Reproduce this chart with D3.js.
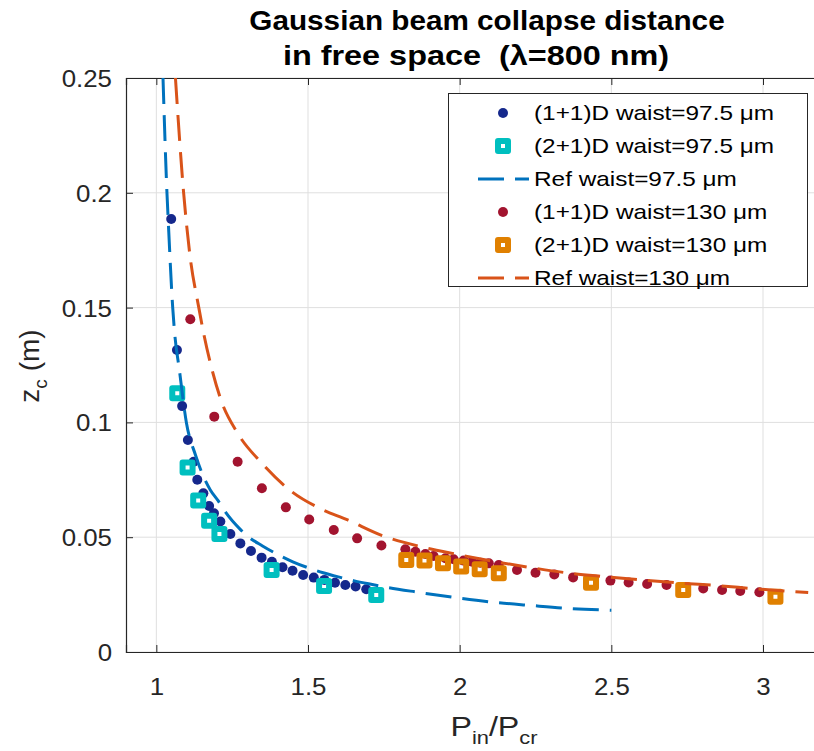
<!DOCTYPE html>
<html>
<head>
<meta charset="utf-8">
<script src="https://cdn.jsdelivr.net/npm/d3@7"></script>
<style>
  body { margin: 0; background: #fff; }
  svg { font-family: "Liberation Sans", Arial, sans-serif; }
</style>
</head>
<body>
<script>
// (1+1)D, waist 97.5 um
const p1D975 = [1.049, 1.068, 1.085, 1.104, 1.123, 1.135, 1.155, 1.174, 1.190, 1.211, 1.244, 1.277, 1.312, 1.347, 1.381, 1.416, 1.449, 1.484, 1.519, 1.554, 1.589, 1.623, 1.657, 1.692];
const z1D975 = [0.1886, 0.1315, 0.1071, 0.0923, 0.0829, 0.0750, 0.0691, 0.0636, 0.0604, 0.0568, 0.0514, 0.0473, 0.0440, 0.0411, 0.0393, 0.0369, 0.0354, 0.0335, 0.0324, 0.0314, 0.0302, 0.0292, 0.0285, 0.0273];
// (2+1)D, waist 97.5 um
const p2D975 = [1.069, 1.103, 1.138, 1.174, 1.208, 1.380, 1.553, 1.725];
const z2D975 = [0.1127, 0.0804, 0.0660, 0.0572, 0.0514, 0.0357, 0.0287, 0.0248];
// reference curve, waist 97.5 um
const pRef975 = [1.022, 1.035, 1.039, 1.054, 1.060, 1.076, 1.099, 1.129, 1.151, 1.178, 1.203, 1.227, 1.279, 1.30, 1.35, 1.40, 1.45, 1.50, 1.55, 1.60, 1.65, 1.70, 1.75, 1.859, 1.986, 2.110, 2.233, 2.358, 2.5];
const zRef975 = [0.25, 0.2, 0.1886, 0.15, 0.1395, 0.1228, 0.100, 0.0858, 0.0778, 0.0706, 0.0660, 0.0611, 0.0531, 0.0505, 0.0462, 0.0425, 0.0393, 0.0367, 0.0345, 0.0327, 0.0311, 0.0297, 0.0284, 0.0261, 0.0237, 0.0217, 0.0203, 0.0190, 0.0182];
// (1+1)D, waist 130 um
const p1D130 = [1.112, 1.191, 1.268, 1.348, 1.427, 1.504, 1.585, 1.662, 1.742, 1.821, 1.854, 1.887, 1.914, 1.953, 1.980, 2.013, 2.041, 2.068, 2.096, 2.129, 2.189, 2.250, 2.312, 2.374, 2.497, 2.557, 2.618, 2.682, 2.803, 2.865, 2.925, 2.988];
const z1D130 = [0.1449, 0.1025, 0.0829, 0.0713, 0.0630, 0.0577, 0.0531, 0.0495, 0.0464, 0.0447, 0.0437, 0.0427, 0.0418, 0.0408, 0.0404, 0.0398, 0.0393, 0.0389, 0.0386, 0.0379, 0.0357, 0.0345, 0.0338, 0.0325, 0.0311, 0.0303, 0.0296, 0.0292, 0.0277, 0.0270, 0.0266, 0.0260];
// (2+1)D, waist 130 um
const p2D130 = [1.824, 1.884, 1.945, 2.005, 2.066, 2.129, 2.433, 2.737, 3.041];
const z2D130 = [0.0401, 0.0398, 0.0386, 0.0372, 0.0360, 0.0343, 0.0302, 0.0270, 0.0241];
// reference curve, waist 130 um
const pRef130 = [1.063, 1.090, 1.110, 1.140, 1.156, 1.181, 1.213, 1.268, 1.348, 1.447, 1.534, 1.631, 1.747, 1.867, 1.989, 2.111, 2.233, 2.358, 2.480, 2.606, 2.728, 2.853, 2.977, 3.149];
const zRef130 = [0.25, 0.2, 0.1736, 0.15, 0.1388, 0.1243, 0.1098, 0.0953, 0.0822, 0.0698, 0.0629, 0.0575, 0.0506, 0.0460, 0.0426, 0.0395, 0.0368, 0.0344, 0.0328, 0.0313, 0.0300, 0.0289, 0.0275, 0.0259];

const xTicks = [1, 1.5, 2, 2.5, 3];
const yTicks = [0, 0.05, 0.1, 0.15, 0.2, 0.25];
const legendLabels = ["(1+1)D waist=97.5 μm", "(2+1)D waist=97.5 μm", "Ref waist=97.5 μm",
                      "(1+1)D waist=130 μm", "(2+1)D waist=130 μm", "Ref waist=130 μm"];

const W = 814, H = 751;
const axisCol = '#262626';
const cBlueDot = '#15288c', cCyan = '#00bfbf', cBlueLine = '#0072bd';
const cRedDot = '#a2142f', cOrange = '#e08000', cOrangeLine = '#d95319';

let svg = d3.select('body').append('svg').attr('width', W).attr('height', H);

let x = d3.scaleLinear().domain([0.9, 3.3]).range([126, 854]);
let y = d3.scaleLinear().domain([0, 0.25]).range([652, 78]);

// text in the reference is a bit wider than the font, so stretch horizontally
function stretched(g, px, py, str, sx, anchor) {
  return g.append('text')
    .attr('transform', `translate(${px},${py}) scale(${sx},1)`)
    .attr('text-anchor', anchor || 'middle')
    .text(str);
}

// grid
let grid = svg.append('g').attr('stroke', '#dfdfdf').attr('stroke-width', 1);
grid.selectAll('.gx').data(xTicks).enter().append('line')
  .attr('x1', d => x(d)).attr('x2', d => x(d)).attr('y1', y(0)).attr('y2', y(0.25));
grid.selectAll('.gy').data(yTicks).enter().append('line')
  .attr('x1', x(0.9)).attr('x2', W).attr('y1', d => y(d)).attr('y2', d => y(d));

// axes
let xAxis = d3.axisBottom(x).tickValues(xTicks).tickSize(-7).tickPadding(0).tickFormat(d3.format('~g'));
let gx = svg.append('g').attr('transform', `translate(0,${y(0)})`).call(xAxis);
let xTop = d3.axisTop(x).tickValues(xTicks).tickSize(-7).tickFormat('');
let gxt = svg.append('g').attr('transform', `translate(0,${y(0.25)})`).call(xTop);
let yAxis = d3.axisLeft(y).tickValues(yTicks).tickSize(-7).tickFormat(d3.format('~g'));
let gy = svg.append('g').attr('transform', `translate(${x(0.9)},0)`).call(yAxis);

[gx, gxt, gy].forEach(g => {
  g.select('.domain').attr('stroke', axisCol).attr('stroke-width', 1.2);
  g.selectAll('.tick line').attr('stroke', axisCol).attr('stroke-width', 1);
});
gx.selectAll('.tick text').attr('y', 0).attr('dy', 0)
  .attr('transform', 'translate(0,43) scale(1.1,1)')
  .attr('font-size', 23.5).attr('fill', axisCol).attr('font-family', null);
gy.selectAll('.tick text').attr('x', 0).attr('dy', 0)
  .attr('transform', 'translate(-14,8.5) scale(1.1,1)')
  .attr('font-size', 23.5).attr('fill', axisCol).attr('font-family', null);

// plot area clip
svg.append('clipPath').attr('id', 'clip').append('rect')
  .attr('x', x(0.9)).attr('y', y(0.25)).attr('width', W - x(0.9)).attr('height', y(0) - y(0.25));
let plot = svg.append('g').attr('clip-path', 'url(#clip)');

function zip(a, b) { return a.map((v, i) => [v, b[i]]); }

let line = d3.line().x(d => x(d[0])).y(d => y(d[1])).curve(d3.curveMonotoneX);

function dots(data, col) {
  plot.append('g').selectAll('circle').data(data).enter().append('circle')
    .attr('cx', d => x(d[0])).attr('cy', d => y(d[1])).attr('r', 5).attr('fill', col);
}
function squares(data, col) {
  plot.append('g').selectAll('rect').data(data).enter().append('rect')
    .attr('x', d => x(d[0]) - 5).attr('y', d => y(d[1]) - 5)
    .attr('width', 10).attr('height', 10)
    .attr('fill', 'none').attr('stroke', col).attr('stroke-width', 6).attr('stroke-linejoin', 'round');
}
function dashed(data, col) {
  plot.append('path').datum(data).attr('d', line)
    .attr('fill', 'none').attr('stroke', col).attr('stroke-width', 3)
    .attr('stroke-dasharray', '26,11');
}

dots(zip(p1D975, z1D975), cBlueDot);
squares(zip(p2D975, z2D975), cCyan);
dashed(zip(pRef975, zRef975), cBlueLine);
dots(zip(p1D130, z1D130), cRedDot);
squares(zip(p2D130, z2D130), cOrange);
dashed(zip(pRef130, zRef130), cOrangeLine);

// legend
let lg = svg.append('g');
lg.append('rect').attr('x', 448.5).attr('y', 93.5).attr('width', 359).attr('height', 193)
  .attr('fill', '#fff').attr('stroke', axisCol).attr('stroke-width', 1);
const kinds = ['dot', 'sq', 'line', 'dot', 'sq', 'line'];
const cols = [cBlueDot, cCyan, cBlueLine, cRedDot, cOrange, cOrangeLine];
legendLabels.forEach((lab, i) => {
  let cy = 113 + i * 33;
  if (kinds[i] === 'dot') {
    lg.append('circle').attr('cx', 503).attr('cy', cy).attr('r', 5).attr('fill', cols[i]);
  } else if (kinds[i] === 'sq') {
    lg.append('rect').attr('x', 498).attr('y', cy - 5).attr('width', 10).attr('height', 10)
      .attr('fill', 'none').attr('stroke', cols[i]).attr('stroke-width', 6).attr('stroke-linejoin', 'round');
  } else {
    lg.append('line').attr('x1', 478).attr('x2', 529).attr('y1', cy).attr('y2', cy)
      .attr('stroke', cols[i]).attr('stroke-width', 3).attr('stroke-dasharray', '26,11');
  }
  stretched(lg, 534, cy + 7, lab, 1.16, 'start').attr('font-size', 21).attr('fill', '#000');
});

// title
stretched(svg, 487, 30, 'Gaussian beam collapse distance', 1.1).attr('font-size', 27).attr('font-weight', 'bold');
stretched(svg, 476, 65, 'in free space  (λ=800 nm)', 1.2).attr('font-size', 27).attr('font-weight', 'bold')
  .attr('xml:space', 'preserve');

// x label
let xl = svg.append('text').attr('transform', 'translate(494,736) scale(1.15,1)')
  .attr('text-anchor', 'middle').attr('font-size', 28).attr('fill', axisCol);
xl.append('tspan').text('P');
xl.append('tspan').attr('font-size', 19).attr('dy', 8).text('in');
xl.append('tspan').attr('dy', -8).text('/P');
xl.append('tspan').attr('font-size', 19).attr('dy', 8).text('cr');

// y label
let yl = svg.append('text').attr('transform', 'translate(39,366) rotate(-90)')
  .attr('text-anchor', 'middle').attr('font-size', 28).attr('fill', axisCol);
yl.append('tspan').text('z');
yl.append('tspan').attr('font-size', 19).attr('dy', 8).text('c');
yl.append('tspan').attr('dy', -8).text(' (m)');
</script>
</body>
</html>
